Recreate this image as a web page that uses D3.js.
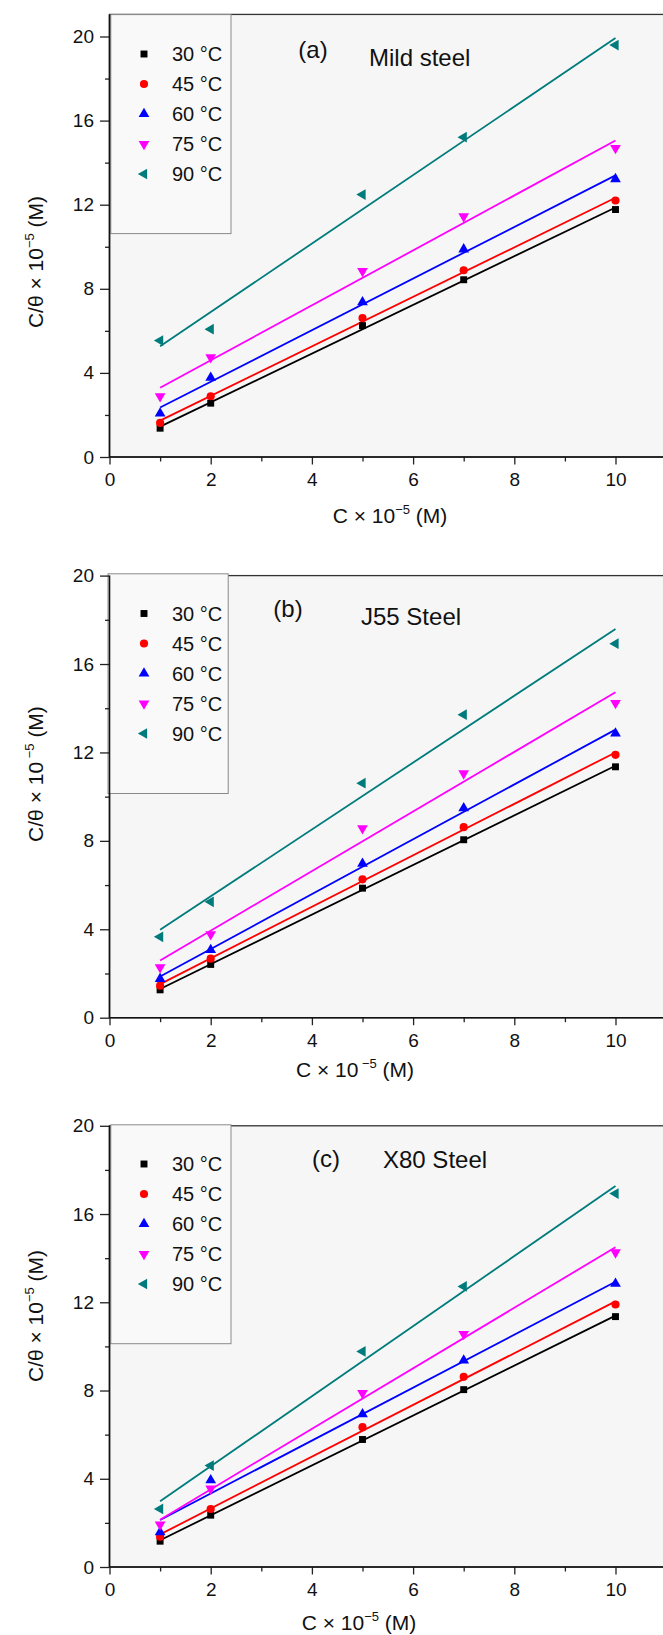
<!DOCTYPE html>
<html>
<head>
<meta charset="utf-8">
<script src="https://cdn.jsdelivr.net/npm/d3@7"></script>
<style>
body { margin: 0; background: #fff; }
svg text { font-family: "Liberation Sans", Arial, sans-serif; fill: #111; }
</style>
</head>
<body>
<svg width="663" height="1635"></svg>
<script>
var svg = d3.select("svg");

// concentrations (x 10^-5 M)
var conc = [1, 2, 5, 7, 10];
var temps = ["30 °C", "45 °C", "60 °C", "75 °C", "90 °C"];
var colors = ["#000000", "#ff0000", "#0000ff", "#ff00ff", "#007b7b"];
var xTicks = [0, 2, 4, 6, 8, 10];
var yTicks = [0, 4, 8, 12, 16, 20];

// C/theta values, one row per temperature
var mildSteel = [
  [1.37, 2.56, 6.25, 8.43, 11.77],
  [1.62, 2.89, 6.61, 8.88, 12.20],
  [2.07, 3.77, 7.36, 9.88, 13.22],
  [2.89, 4.74, 8.84, 11.44, 14.69],
  [5.54, 6.08, 12.48, 15.21, 19.59]
];
var j55Steel = [
  [1.26, 2.41, 5.86, 8.05, 11.35],
  [1.45, 2.67, 6.26, 8.62, 11.89],
  [1.76, 3.07, 6.97, 9.48, 12.86],
  [2.28, 3.77, 8.57, 11.05, 14.23],
  [3.66, 5.24, 10.61, 13.71, 16.92]
];
var x80Steel = [
  [1.17, 2.35, 5.78, 8.04, 11.35],
  [1.37, 2.63, 6.34, 8.62, 11.90],
  [1.58, 3.94, 6.93, 9.36, 12.84],
  [1.92, 3.55, 7.88, 10.56, 14.26],
  [2.63, 4.60, 9.77, 12.72, 16.93]
];

var panels = [
  {data: mildSteel, tag: "(a)", name: "Mild steel", y0: 457, y20: 36.5, ymax: 21.05,
   tagX: 313, nameX: 369, tagY: 58, nameY: 66, legY: 14.6, legX: 110.8, legBottom: 233.6, row0: 54,
   yTitleY: 262, xTitleX: 390, xTitleY: 523, sup: "\u22125"},
  {data: j55Steel, tag: "(b)", name: "J55 Steel", y0: 1017.7, y20: 575.6, ymax: 20,
   tagX: 288, nameX: 361, tagY: 617, nameY: 625, legY: 573.8, legX: 108, legBottom: 793.5, row0: 613.5,
   yTitleY: 774, xTitleX: 355, xTitleY: 1077, sup: " \u22125"},
  {data: x80Steel, tag: "(c)", name: "X80 Steel", y0: 1567, y20: 1125.8, ymax: 20,
   tagX: 326, nameX: 383, tagY: 1167, nameY: 1168, legY: 1124.8, legX: 110.8, legBottom: 1343.7, row0: 1164,
   yTitleY: 1316, xTitleX: 359, xTitleY: 1630, sup: "\u22125"}
];

var symbols = [
  {type: d3.symbolSquare, size: 48, rot: 0},
  {type: d3.symbolCircle, size: 52, rot: 0},
  {type: d3.symbolTriangle, size: 50, rot: 0},
  {type: d3.symbolTriangle, size: 50, rot: 180},
  {type: d3.symbolTriangle, size: 50, rot: -90}
];

// least squares line through one series
function fit(ys) {
  var mx = d3.mean(conc), my = d3.mean(ys);
  var sxy = d3.sum(conc, function(x, i) { return (x - mx) * (ys[i] - my); });
  var sxx = d3.sum(conc, function(x) { return (x - mx) * (x - mx); });
  var b = sxy / sxx;
  return {b: b, a: my - b * mx};
}

panels.forEach(function(p) {
  var x = d3.scaleLinear().domain([0, 11]).range([109.5, 109.5 + 11 * 50.6]);
  var y = d3.scaleLinear().domain([0, 20]).range([p.y0, p.y20]);
  var top = y(p.ymax);

  var g = svg.append("g");

  // plot area
  g.append("rect")
    .attr("x", x(0)).attr("y", top)
    .attr("width", x(11) - x(0)).attr("height", y(0) - top)
    .attr("fill", "#f6f6f6")
    .attr("stroke", "#333").attr("stroke-width", 1.3);

  // legend box
  g.append("rect")
    .attr("x", p.legX).attr("y", p.legY)
    .attr("width", 231 - 110.8).attr("height", p.legBottom - p.legY)
    .attr("fill", "#f9f9f9")
    .attr("stroke", "#8a8a8a").attr("stroke-width", 1);

  // axes
  g.append("g")
    .attr("transform", "translate(0," + y(0) + ")")
    .call(d3.axisBottom(x).tickValues(xTicks).tickSize(7.5).tickPadding(8).tickFormat(d3.format("d")));
  g.append("g")
    .attr("transform", "translate(0," + y(0) + ")")
    .call(d3.axisBottom(x).tickValues([1, 3, 5, 7, 9]).tickSize(4.5).tickFormat(""));
  g.append("g")
    .attr("transform", "translate(" + x(0) + ",0)")
    .call(d3.axisLeft(y).tickValues(yTicks).tickSize(9.5).tickPadding(6).tickFormat(d3.format("d")));
  g.append("g")
    .attr("transform", "translate(" + x(0) + ",0)")
    .call(d3.axisLeft(y).tickValues([2, 6, 10, 14, 18]).tickSize(4.5).tickFormat(""));

  g.selectAll(".domain").remove();
  g.selectAll(".tick line").attr("stroke", "#222").attr("stroke-width", 1.3);
  g.selectAll(".tick text").attr("font-size", 19).attr("fill", "#111");

  g.append("line")
    .attr("x1", x(0)).attr("x2", x(11)).attr("y1", y(0)).attr("y2", y(0))
    .attr("stroke", "#111").attr("stroke-width", 1.6);
  g.append("line")
    .attr("x1", x(0)).attr("x2", x(0)).attr("y1", top).attr("y2", y(0))
    .attr("stroke", "#111").attr("stroke-width", 1.6);

  // fitted lines
  p.data.forEach(function(ys, i) {
    var f = fit(ys);
    g.append("line")
      .attr("x1", x(1)).attr("y1", y(f.a + f.b * 1))
      .attr("x2", x(10)).attr("y2", y(f.a + f.b * 10))
      .attr("stroke", colors[i]).attr("stroke-width", 1.8);
  });

  // points
  p.data.forEach(function(ys, i) {
    var s = symbols[i];
    g.selectAll(null)
      .data(ys)
      .enter().append("path")
      .attr("d", d3.symbol().type(s.type).size(s.size))
      .attr("transform", function(d, j) {
        return "translate(" + x(conc[j]) + "," + y(d) + ") rotate(" + s.rot + ")";
      })
      .attr("fill", colors[i]);
  });

  // legend entries
  temps.forEach(function(t, i) {
    var s = symbols[i];
    var ry = p.row0 + i * 30;
    g.append("path")
      .attr("d", d3.symbol().type(s.type).size(s.size))
      .attr("transform", "translate(144," + ry + ") rotate(" + s.rot + ")")
      .attr("fill", colors[i]);
    g.append("text")
      .attr("x", 172).attr("y", ry + 7)
      .attr("font-size", 20)
      .text(t);
  });

  // annotations
  g.append("text")
    .attr("x", p.tagX).attr("y", p.tagY)
    .attr("text-anchor", "middle").attr("font-size", 24)
    .text(p.tag);
  g.append("text")
    .attr("x", p.nameX).attr("y", p.nameY)
    .attr("font-size", 24)
    .text(p.name);

  // axis titles
  var xt = g.append("text")
    .attr("x", p.xTitleX).attr("y", p.xTitleY)
    .attr("text-anchor", "middle").attr("font-size", 21);
  xt.append("tspan").text("C \u00d7 10");
  xt.append("tspan").attr("dy", -9).attr("font-size", 13).text(p.sup);
  xt.append("tspan").attr("dy", 9).text(" (M)");

  var yt = g.append("text")
    .attr("transform", "translate(43," + p.yTitleY + ") rotate(-90)")
    .attr("text-anchor", "middle").attr("font-size", 21);
  yt.append("tspan").text("C/\u03b8 \u00d7 10");
  yt.append("tspan").attr("dy", -9).attr("font-size", 13).text(p.sup);
  yt.append("tspan").attr("dy", 9).text(" (M)");
});
</script>
</body>
</html>
